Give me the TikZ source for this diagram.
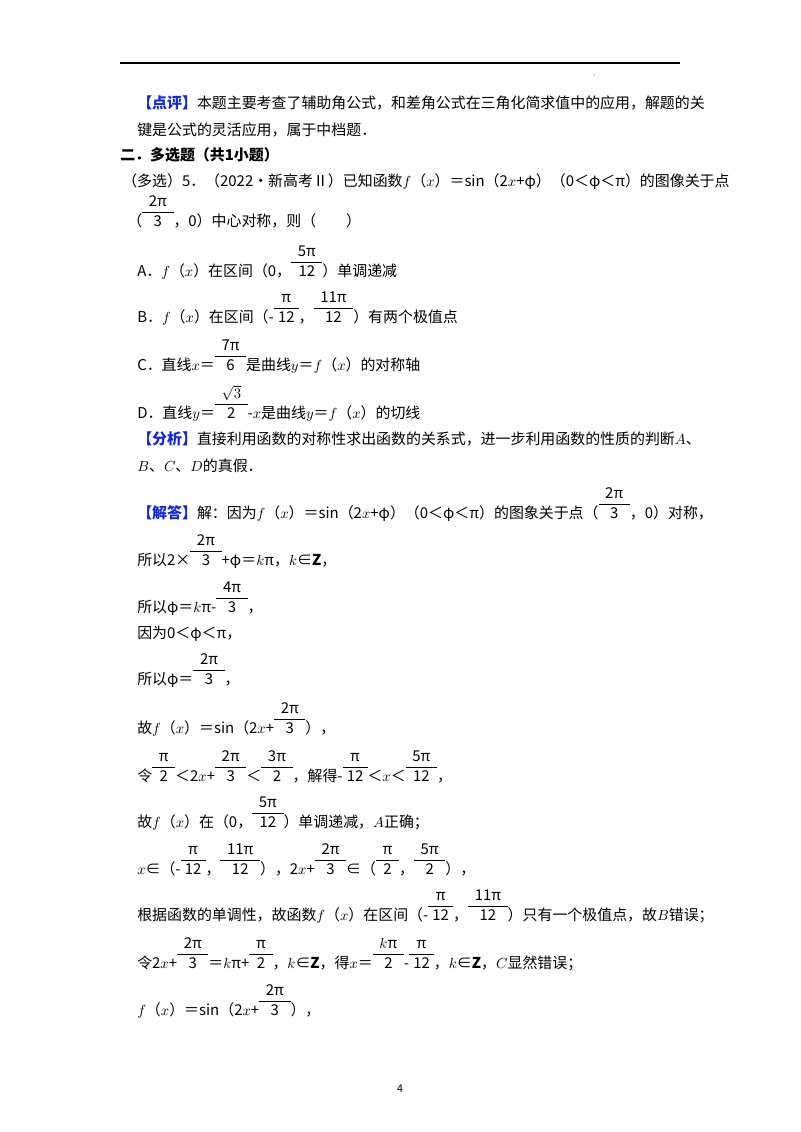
\documentclass[tikz,border=0pt]{standalone}
\usepackage{fontspec}
\usepackage{xcolor}
\setmainfont{Noto Sans CJK SC}
\definecolor{tagblue}{RGB}{20,40,210}
\newcommand\fr[2]{{\renewcommand\arraystretch{1.1}\begin{tabular}[b]{@{\;}c@{\;}}\,#1\,\\\hline #2\end{tabular}}}
\newcommand\tag[1]{\textcolor{tagblue}{\textbf{【#1】}}}
\begin{document}
\begin{tikzpicture}[x=0.75pt,y=-0.75pt,txt/.style={anchor=base west,inner sep=0pt,font=\fontsize{11.2}{13}\selectfont}]
\useasboundingbox (0,0) rectangle (800,1132);
\draw[line width=0.8pt] (120,63) -- (680,63);
\fill (594,75) circle (0.5);
\node[txt] (l1) at (137,108) {\tag{点评}本题主要考查了辅助角公式，和差角公式在三角化简求值中的应用，解题的关};
\node[txt] (l2) at (137,135) {键是公式的灵活应用，属于中档题．};
\node[txt] (l3) at (120,160) {\textbf{二．多选题（共1小题）}};
\node[txt] (l4) at (122,186) {（多选）5．（2022•新高考Ⅱ）已知函数$f$（$x$）＝sin（2$x$+φ）（0＜φ＜π）的图像关于点};
\node[txt] (l5) at (127,226) {（\fr{2π}{3}，0）中心对称，则（\quad\quad）};
\node[txt] (a) at (137,276) {A．$f$（$x$）在区间（0，\fr{5π}{12}）单调递减};
\node[txt] (b) at (137,322) {B．$f$（$x$）在区间（-\fr{π}{12}，\fr{11π}{12}）有两个极值点};
\node[txt] (c) at (137,370) {C．直线$x$＝\fr{7π}{6}是曲线$y$＝$f$（$x$）的对称轴};
\node[txt] (d) at (137,418) {D．直线$y$＝\fr{$\sqrt{3}$}{2}-$x$是曲线$y$＝$f$（$x$）的切线};
\node[txt] (f1) at (137,444) {\tag{分析}直接利用函数的对称性求出函数的关系式，进一步利用函数的性质的判断$A$、};
\node[txt] (f2) at (137,471) {$B$、$C$、$D$的真假．};
\node[txt] (s1) at (137,518) {\tag{解答}解：因为$f$（$x$）＝sin（2$x$+φ）（0＜φ＜π）的图象关于点（\fr{2π}{3}，0）对称，};
\node[txt] (s2) at (137,565) {所以2×\fr{2π}{3}+φ＝$k$π，$k$∈\textbf{Z}，};
\node[txt] (s3) at (137,612) {所以φ＝$k$π-\fr{4π}{3}，};
\node[txt] (s4) at (137,638) {因为0＜φ＜π，};
\node[txt] (s5) at (137,684) {所以φ＝\fr{2π}{3}，};
\node[txt] (s6) at (137,733) {故$f$（$x$）＝sin（2$x$+\fr{2π}{3}），};
\node[txt] (s7) at (137,781) {令\fr{π}{2}＜2$x$+\fr{2π}{3}＜\fr{3π}{2}，解得-\fr{π}{12}＜$x$＜\fr{5π}{12}，};
\node[txt] (s8) at (137,827) {故$f$（$x$）在（0，\fr{5π}{12}）单调递减，$A$正确；};
\node[txt] (s9) at (137,874) {$x$∈（-\fr{π}{12}，\fr{11π}{12}），2$x$+\fr{2π}{3}∈（\fr{π}{2}，\fr{5π}{2}），};
\node[txt] (s10) at (137,920) {根据函数的单调性，故函数$f$（$x$）在区间（-\fr{π}{12}，\fr{11π}{12}）只有一个极值点，故$B$错误；};
\node[txt] (s11) at (137,968) {令2$x$+\fr{2π}{3}＝$k$π+\fr{π}{2}，$k$∈\textbf{Z}，得$x$＝\fr{$k$π}{2}-\fr{π}{12}，$k$∈\textbf{Z}，$C$显然错误；};
\node[txt] (s12) at (137,1015) {$f$（$x$）＝sin（2$x$+\fr{2π}{3}），};
\node[anchor=base,inner sep=0pt,font=\fontsize{8}{9}\selectfont] (pg) at (400,1092) {4};
\end{tikzpicture}
\end{document}
